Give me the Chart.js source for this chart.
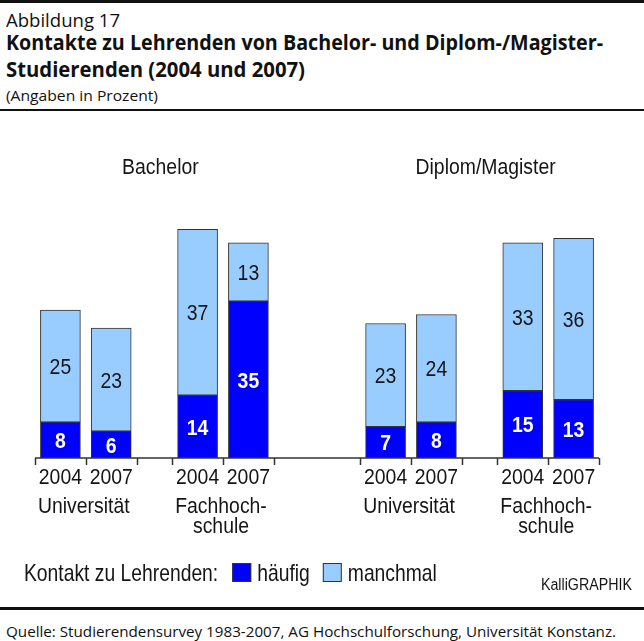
<!DOCTYPE html>
<html>
<head>
<meta charset="utf-8">
<script src="https://cdn.jsdelivr.net/npm/chart.js@4/dist/chart.umd.min.js"></script>
<style>
html,body{margin:0;padding:0;background:#fff;}
body{width:644px;height:641px;position:relative;overflow:hidden;font-family:"Open Sans","Noto Sans",sans-serif;color:#111;}
.rule{position:absolute;left:0;width:644px;background:#111;}
.t{position:absolute;left:6px;top:0;white-space:nowrap;line-height:1;transform-origin:0 0;}
#chartBox{position:absolute;left:0;top:112px;width:644px;height:494px;}
</style>
</head>
<body>
<div class="rule" style="top:0;height:3px"></div>
<div class="t" data-base="27" data-w="114" style="font-size:19px">Abbildung 17</div>
<div class="t" data-base="50" data-w="597" style="font-size:21px;font-weight:700">Kontakte zu Lehrenden von Bachelor- und Diplom-/Magister-</div>
<div class="t" data-base="77" data-w="299" style="font-size:21px;font-weight:700">Studierenden (2004 und 2007)</div>
<div class="t" data-base="101" data-w="152" style="font-size:15px">(Angaben in Prozent)</div>
<div class="rule" style="top:109px;height:2px"></div>
<div id="chartBox"><canvas id="c" width="644" height="494"></canvas></div>
<div class="rule" style="top:607px;height:3px"></div>
<div class="t" data-base="637" data-w="610" style="font-size:15px">Quelle: Studierendensurvey 1983-2007, AG Hochschulforschung, Universität Konstanz.</div>
<script>
// ---- data ----
const groupTitles = ['Bachelor', 'Diplom/Magister'];
const institutions = ['Universität', 'Fachhoch-\nschule'];
const years = ['2004', '2007'];
const seriesNames = ['häufig', 'manchmal'];
const haeufig = [8, 6, 14, 35, 7, 8, 15, 13];
const manchmal = [25, 23, 37, 13, 23, 24, 33, 36];
const legendTitle = 'Kontakt zu Lehrenden:';
const credit = 'KalliGRAPHIK';

// ---- layout helpers (slot units) ----
const PAIR_GAP = 0.7, GROUP_GAP = 1.7;
function slotStart(i){
  const pair = Math.floor(i/2), grp = Math.floor(i/4);
  return i + (pair - grp) * PAIR_GAP + grp * GROUP_GAP;
}
const X_MAX = slotStart(haeufig.length - 1) + 1;
const center = i => slotStart(i) + 0.5;

const COLORS = ['#0000FF', '#99CCFF'];
const FONT = '"Liberation Sans", Arial, sans-serif';
const INK = '#151515';

function txt(ctx, s, x, y, font, color, align, sy, sx){
  ctx.save();
  ctx.font = font; ctx.fillStyle = color; ctx.textAlign = align || 'center';
  ctx.textBaseline = 'alphabetic';
  ctx.translate(x, y); ctx.scale(sx || 1, sy || 1);
  ctx.fillText(s, 0, 0);
  ctx.restore();
}

const decor = {
  id: 'decor',
  afterDatasetsDraw(chart){
    const ctx = chart.ctx, xs = chart.scales.x, ys = chart.scales.y;
    const base = ys.getPixelForValue(0);
    // value labels
    chart.data.datasets.forEach((ds, di) => {
      const meta = chart.getDatasetMeta(di);
      meta.data.forEach((bar, i) => {
        const v = ds.data[i].y;
        const cy = (bar.y + bar.base) / 2 + 8;
        txt(ctx, String(v), bar.x, cy,
            (di === 0 ? 'bold ' : '') + '20px ' + FONT,
            di === 0 ? '#ffffff' : INK, 'center', 1.1, 0.97);
      });
    });
    // axis line
    ctx.save();
    ctx.strokeStyle = '#333'; ctx.lineWidth = 1.5;
    ctx.beginPath();
    ctx.moveTo(xs.getPixelForValue(0), base);
    ctx.lineTo(xs.getPixelForValue(X_MAX), base);
    for (let p = 0; p < haeufig.length / 2; p++) {
      const s = slotStart(2 * p);
      [s, s + 1, s + 2].forEach(t => {
        const px = Math.round(xs.getPixelForValue(t)) + 0.5;
        ctx.moveTo(px, base); ctx.lineTo(px, base + 7);
      });
    }
    ctx.stroke();
    ctx.restore();
    // year labels
    haeufig.forEach((_, i) => {
      txt(ctx, years[i % 2], xs.getPixelForValue(center(i)), base + 26, '20px ' + FONT, INK, 'center', 1.1, 0.97);
    });
    // institution labels
    for (let p = 0; p < haeufig.length / 2; p++) {
      const cx = (xs.getPixelForValue(center(2*p)) + xs.getPixelForValue(center(2*p+1))) / 2 - 2;
      institutions[p % 2].split('\n').forEach((line, k) => {
        txt(ctx, line, cx, base + 55 + k * 20, '20px ' + FONT, INK, 'center', 1.1, 0.97);
      });
    }
    // group titles
    for (let g = 0; g < groupTitles.length; g++) {
      const cx = (xs.getPixelForValue(center(4*g)) + xs.getPixelForValue(center(4*g+3))) / 2 + 6;
      txt(ctx, groupTitles[g], cx, chart.chartArea.top - 15, '20px ' + FONT, INK, 'center', 1.1, 0.97);
    }
    // legend
    const ly = base + 123;
    const lf = '20px ' + FONT;
    const lsx = 0.965;
    ctx.save(); ctx.font = lf;
    let x = 24;
    txt(ctx, legendTitle, x, ly, lf, INK, 'left', 1.2, lsx);
    x += ctx.measureText(legendTitle).width * lsx + 14;
    seriesNames.forEach((name, k) => {
      ctx.fillStyle = COLORS[k];
      ctx.fillRect(x, ly - 18, 19, 19);
      ctx.strokeStyle = '#333'; ctx.lineWidth = 1;
      ctx.strokeRect(x + 0.5, ly - 17.5, 18, 18);
      x += 25;
      txt(ctx, name, x, ly, lf, INK, 'left', 1.2, lsx);
      ctx.font = lf;
      x += ctx.measureText(name).width * lsx + 13;
    });
    ctx.restore();
    txt(ctx, credit, 632, base + 132, '15px ' + FONT, INK, 'right', 1.05, 0.95);
  }
};

function layoutText(){
  document.querySelectorAll('.t').forEach(el => {
    const s = document.createElement('span');
    s.style.cssText = 'display:inline-block;width:0;height:0;vertical-align:baseline';
    el.appendChild(s);
    const b = s.getBoundingClientRect().top;
    el.style.top = (parseFloat(el.style.top || 0) + (+el.dataset.base) - b) + 'px';
    const w = el.getBoundingClientRect().width;
    el.style.transform = 'scaleX(' + (+el.dataset.w / w) + ')';
  });
}

function build(){
  layoutText();
  new Chart(document.getElementById('c'), {
    type: 'bar',
    data: {
      datasets: [
        { label: seriesNames[0], data: haeufig.map((v, i) => ({ x: center(i), y: v })),
          backgroundColor: COLORS[0], borderColor: '#333', borderWidth: 1, borderSkipped: false, barThickness: 40 },
        { label: seriesNames[1], data: manchmal.map((v, i) => ({ x: center(i), y: v })),
          backgroundColor: COLORS[1], borderColor: '#333', borderWidth: 1, borderSkipped: false, barThickness: 40 }
      ]
    },
    options: {
      responsive: false, animation: false, devicePixelRatio: 1,
      layout: { padding: { left: 35, right: 45, top: 77, bottom: 148 } },
      plugins: { legend: { display: false }, tooltip: { enabled: false } },
      scales: {
        x: { type: 'linear', min: 0, max: X_MAX, offset: false, stacked: true, display: false },
        y: { min: 0, max: 60, stacked: true, display: false }
      }
    },
    plugins: [decor]
  });
}
if (document.fonts && document.fonts.ready) document.fonts.ready.then(build); else build();
</script>
</body>
</html>
